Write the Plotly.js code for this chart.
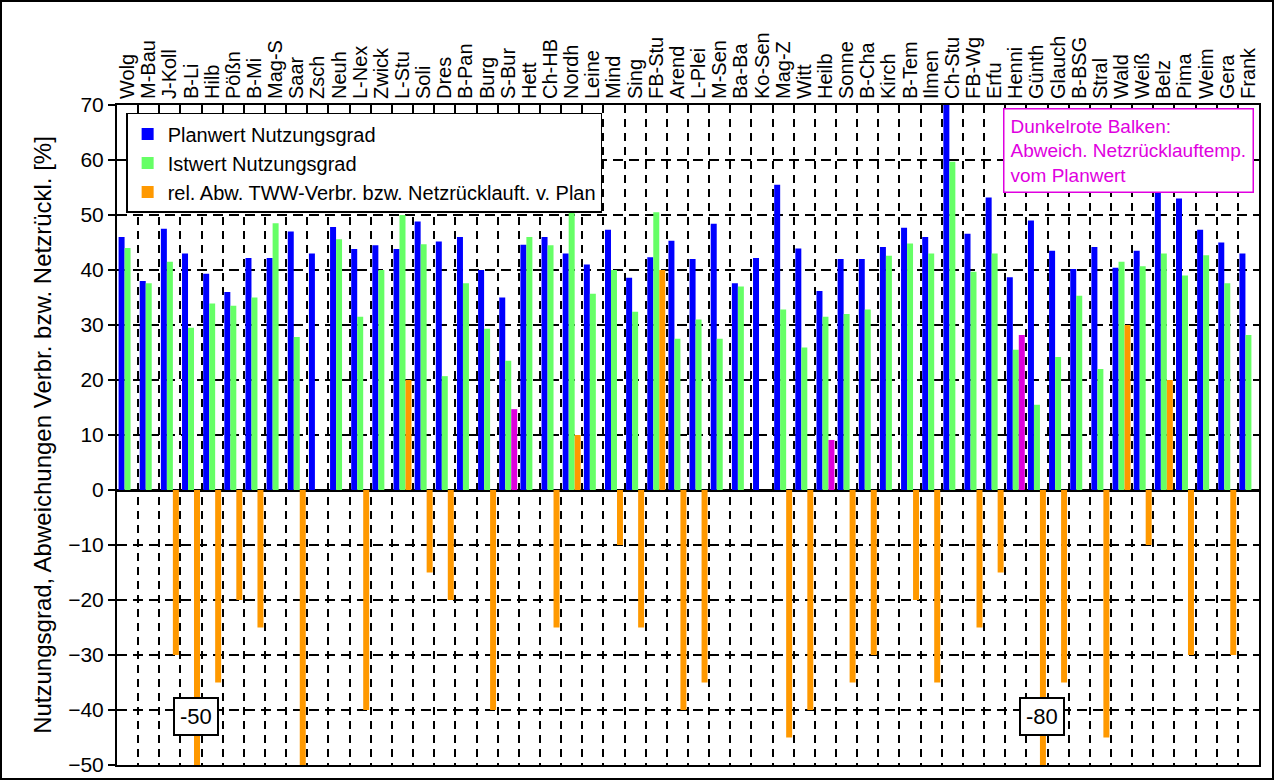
<!DOCTYPE html>
<html>
<head>
<meta charset="utf-8">
<script src="https://cdn.plot.ly/plotly-3.0.1.min.js"></script>
<style>
  html, body { margin: 0; padding: 0; background: #fff; }
  #frame { position: absolute; left: 0; top: 0; width: 1274px; height: 780px; box-sizing: border-box; border: 2px solid #000; pointer-events: none; }
  #chart { position: absolute; left: 0; top: 0; width: 1274px; height: 780px; }
</style>
</head>
<body>
<div id="chart"></div>
<div id="frame"></div>
<script>
// ---- data ----
const categories = ["Wolg","M-Bau","J-Koll","B-Li","Hilb","Pößn","B-Mi","Mag-S","Saar","Zsch",
  "Neuh","L-Nex","Zwick","L-Stu","Soli","Dres","B-Pan","Burg","S-Bur","Hett",
  "Ch-HB","Nordh","Leine","Mind","Sing","FB-Stu","Arend","L-Plei","M-Sen","Ba-Ba",
  "Ko-Sen","Mag-Z","Witt","Heilb","Sonne","B-Cha","Kirch","B-Tem","Ilmen","Ch-Stu",
  "FB-Wg","Erfu","Henni","Günth","Glauch","B-BSG","Stral","Wald","Weiß","Belz",
  "Pima","Weim","Gera","Frank"];

const planwert = [46,38,47.5,43,39.3,36,42.2,42.2,47,43,
  47.8,43.8,44.5,43.8,48.8,45.2,46,40,35,44.6,
  46,43,41,47.3,38.6,42.3,45.3,42,48.4,37.6,
  42.2,55.5,43.9,36.2,42,42,44.2,47.7,46,70,
  46.6,53.2,38.7,49,43.5,40.2,44.2,40.4,43.5,54,
  53,47.3,45,43];

const istwert = [44,37.6,41.5,29.5,33.9,33.5,35,48.5,27.8,null,
  45.6,31.5,40,50,44.7,20.7,37.6,29.3,23.5,46,
  44.5,50.5,35.7,40,32.4,50.5,27.5,31,27.5,37,
  null,32.8,25.9,31.5,32,32.8,42.6,44.8,43,59.7,
  39.7,43,25.5,15.5,24.2,35.3,22,41.5,40.7,43,
  39,42.7,37.6,28.2];

const abwTWW = [null,null,-30,-50,-35,-20,-25,null,-50,null,
  null,-40,null,20,-15,-20,null,-40,null,null,
  -25,10,null,-10,-25,40,-40,-35,null,null,
  null,-45,-40,null,-35,-30,null,-20,-35,null,
  -25,-15,null,-80,-35,null,-45,30,-10,20,
  -30,null,-30,null];

const abwRuecklauf = [null,null,null,null,null,null,null,null,null,null,
  null,null,null,null,null,null,null,null,14.7,null,
  null,null,null,null,null,null,null,null,null,null,
  null,null,null,9.1,null,null,null,null,null,null,
  null,null,28.2,null,null,null,null,null,null,null,
  null,null,null,null];

const seriesNames = ["Planwert Nutzungsgrad", "Istwert Nutzungsgrad",
  "rel. Abw. TWW-Verbr. bzw. Netzrücklauft. v. Plan", "Abweich. Netzrücklauftemp."];

const yTitle = "Nutzungsgrad, Abweichungen Verbr. bzw. Netzrückl. [%]";
const noteText = ["Dunkelrote Balken:", "Abweich. Netzrücklauftemp.", "vom Planwert"];
const clipNotes = [{cat: "B-Li", y: -41.2, text: "-50"}, {cat: "Günth", y: -41.2, text: "-80"}];

// ---- chart ----
const FONT = "Liberation Sans, Arial, sans-serif";
const traces = [
  {type: "bar", name: seriesNames[0], x: categories, y: planwert, offsetgroup: "a",
   marker: {color: "#0000ff"}},
  {type: "bar", name: seriesNames[1], x: categories, y: istwert, offsetgroup: "b",
   marker: {color: "#66ff66"}},
  {type: "bar", name: seriesNames[2], x: categories, y: abwTWW, offsetgroup: "c",
   marker: {color: "#ff9900"}},
  {type: "bar", name: seriesNames[3], x: categories, y: abwRuecklauf, offsetgroup: "c",
   marker: {color: "#dd00dd"}, showlegend: false}
];

const annotations = clipNotes.map(n => ({
  x: n.cat, y: n.y, xref: "x", yref: "y", xshift: 5, text: n.text, showarrow: false,
  font: {family: FONT, size: 22, color: "#000"}, bgcolor: "#fff",
  bordercolor: "#000", borderwidth: 2, borderpad: 5
}));
annotations.push({
  xref: "paper", yref: "paper", x: 0.776, y: 0.995, xanchor: "left", yanchor: "top",
  text: noteText.join("<br>"), align: "left", showarrow: false,
  font: {family: FONT, size: 19, color: "#e000e0"}, bgcolor: "#fff",
  bordercolor: "#e000e0", borderwidth: 1.5, borderpad: 6
});

const layout = {
  width: 1274, height: 780,
  margin: {l: 117, r: 15, t: 105, b: 15},
  paper_bgcolor: "#fff", plot_bgcolor: "#fff",
  font: {family: FONT, color: "#000"},
  barmode: "group", bargap: 0.15, bargroupgap: 0,
  showlegend: true,
  legend: {x: 0.008, y: 0.988, xanchor: "left", yanchor: "top",
    bgcolor: "#fff", bordercolor: "#000", borderwidth: 1.5,
    font: {family: FONT, size: 20, color: "#000"}, tracegroupgap: 0},
  xaxis: {
    side: "top", type: "category", tickmode: "linear", dtick: 1, tick0: 0,
    tickangle: -90, tickson: "boundaries",
    ticks: "inside", ticklen: 7, tickwidth: 2, tickcolor: "#000",
    tickfont: {family: FONT, size: 20, color: "#000"},
    showgrid: true, gridcolor: "#000", gridwidth: 2, griddash: "8px,6px",
    showline: true, linecolor: "#000", linewidth: 2, mirror: true,
    automargin: false
  },
  yaxis: {
    range: [-50, 70], dtick: 10, tick0: 0,
    ticks: "outside", ticklen: 7, tickwidth: 2, tickcolor: "#000",
    tickfont: {family: FONT, size: 21, color: "#000"},
    showgrid: true, gridcolor: "#000", gridwidth: 2, griddash: "10px,6px",
    zeroline: true, zerolinecolor: "#000", zerolinewidth: 3,
    showline: true, linecolor: "#000", linewidth: 2, mirror: true,
    title: {text: yTitle, font: {family: FONT, size: 24, color: "#000"}, standoff: 10},
    automargin: false
  },
  annotations: annotations
};

Plotly.newPlot("chart", traces, layout, {displayModeBar: false, staticPlot: true});
</script>
</body>
</html>
